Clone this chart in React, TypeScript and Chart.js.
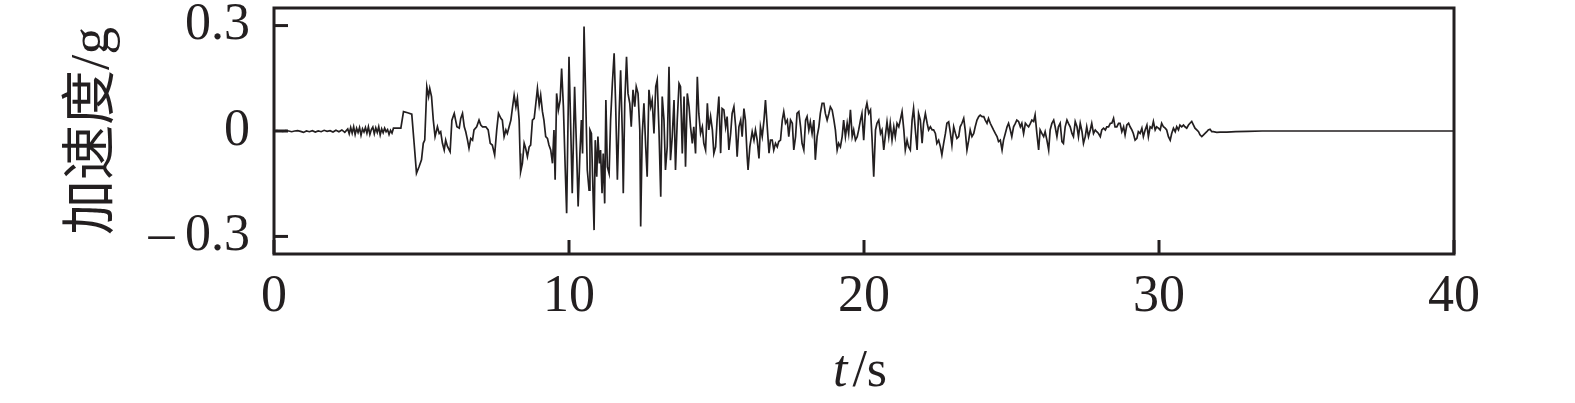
import { useEffect, useRef } from 'react';
import { Chart, registerables } from 'chart.js';

Chart.register(...registerables);

const INK = '#231f20';
const FONT = "'Liberation Serif', 'Times New Roman', 'Noto Sans CJK SC', serif";
const FONT_SIZE = 52;

const X_MIN = 0;
const X_MAX = 40;
const Y_MIN = -0.35;
const Y_MAX = 0.35;
const X_TICKS = [0, 10, 20, 30, 40];
const Y_TICKS = [-0.3, 0, 0.3];
const Y_TICK_LABELS = ['\u2013\u20090.3', '0', '0.3'];
const X_TITLE_ITALIC = 't';
const X_TITLE_REST = '/s';
const Y_TITLE = '加速度/g';

// [time (s), acceleration (g)] read from the record
const PRE_EVENT: [number, number][] = [
  [0, 0.0], [0.1, 0.001], [0.2, 0.0], [0.3, -0.001], [0.4, 0.001], [0.5, 0.0], [0.6, -0.002],
  [0.7, 0.0], [0.8, 0.001], [0.9, -0.001], [1.0, -0.004], [1.1, 0.0], [1.2, -0.002], [1.3, 0.001],
  [1.4, -0.003], [1.5, 0.0], [1.6, -0.002], [1.7, 0.002], [1.8, -0.001], [1.9, 0.001], [2.0, -0.003],
  [2.1, 0.002], [2.2, -0.002], [2.3, 0.003], [2.4, -0.004], [2.5, 0.006], [2.55, -0.008], [2.6, 0.01],
  [2.65, -0.006], [2.7, 0.012], [2.75, -0.01], [2.8, 0.008], [2.85, -0.004], [2.9, 0.01], [2.95, -0.012],
  [3.0, 0.006], [3.05, -0.003], [3.1, 0.01], [3.15, -0.006], [3.2, 0.012], [3.25, -0.01], [3.3, 0.004],
  [3.35, 0.011], [3.4, -0.008], [3.45, 0.009], [3.5, -0.004], [3.55, 0.012], [3.6, -0.011], [3.65, 0.006],
  [3.7, -0.005], [3.75, 0.008], [3.8, -0.002], [3.85, 0.004], [3.9, -0.01], [3.95, 0.002], [4.0, -0.006],
  [4.05, 0.008],
];

const ONSET: [number, number][] = [
  [4.3, 0.008], [4.39, 0.055], [4.53, 0.052], [4.67, 0.048], [4.75, -0.035], [4.83, -0.12], [4.92, -0.101],
  [5.0, -0.082], [5.06, -0.035], [5.11, -0.026], [5.18, 0.126], [5.24, 0.098], [5.28, 0.121], [5.34, 0.098],
  [5.4, 0.031], [5.46, -0.016], [5.54, 0.012], [5.6, -0.007], [5.65, -0.002], [5.71, -0.035], [5.77, -0.054],
  [5.82, -0.026], [5.88, -0.044], [5.97, -0.059], [6.03, 0.031], [6.11, 0.05], [6.2, 0.012], [6.28, 0.008],
  [6.33, 0.036], [6.39, 0.05], [6.45, 0.012], [6.5, -0.002], [6.56, -0.026], [6.61, -0.049], [6.67, -0.021],
  [6.73, -0.026], [6.78, 0.003], [6.87, 0.012], [6.95, 0.031], [7.01, 0.017], [7.07, 0.012], [7.18, 0.012],
  [7.26, 0.003], [7.33, -0.035], [7.4, -0.04], [7.48, -0.068], [7.55, 0.003], [7.61, 0.05], [7.69, 0.036],
  [7.74, 0.031], [7.8, -0.016],
];

const STRONG: [number, number][] = [
  [7.86, 0.003], [7.91, -0.007], [7.97, 0.012], [8.03, 0.031], [8.08, 0.064], [8.14, 0.102], [8.2, 0.069],
  [8.25, 0.093], [8.31, 0.031], [8.34, -0.064], [8.36, -0.116], [8.42, -0.092], [8.48, -0.035], [8.53, -0.049],
  [8.59, -0.073], [8.65, -0.045], [8.7, -0.04], [8.76, 0.031], [8.82, 0.036], [8.87, 0.074], [8.93, 0.121],
  [8.99, 0.074], [9.04, 0.102], [9.1, 0.055], [9.15, 0.031], [9.21, -0.016], [9.27, -0.021], [9.32, -0.04],
  [9.38, -0.054], [9.44, -0.092], [9.49, 0.003], [9.53, -0.139], [9.58, 0.107], [9.64, 0.06], [9.7, 0.088],
  [9.75, 0.178], [9.81, 0.069], [9.87, -0.102], [9.92, -0.234], [10.0, 0.211], [10.06, 0.003], [10.11, -0.177],
  [10.19, 0.126], [10.26, -0.064], [10.31, -0.215], [10.37, -0.064], [10.42, 0.031], [10.46, -0.064],
  [10.51, 0.297], [10.57, 0.079], [10.62, -0.111], [10.68, -0.168], [10.71, 0.003], [10.76, -0.007],
  [10.8, -0.13], [10.85, -0.282], [10.89, -0.026], [10.94, -0.13], [10.98, -0.016], [11.03, -0.092],
  [11.07, -0.054], [11.12, -0.177], [11.16, -0.064], [11.21, -0.206], [11.25, 0.088], [11.3, -0.102],
  [11.36, -0.121], [11.41, 0.031], [11.47, 0.135], [11.53, 0.221], [11.58, 0.079], [11.64, -0.139],
  [11.7, 0.05], [11.75, 0.173], [11.81, -0.016], [11.84, -0.177], [11.89, 0.079], [11.95, 0.211],
  [12.0, 0.107], [12.06, 0.079], [12.11, 0.012], [12.17, 0.117], [12.23, 0.069], [12.28, 0.126],
  [12.34, 0.107], [12.4, 0.003], [12.43, -0.272], [12.48, -0.016], [12.54, 0.079], [12.6, -0.045],
  [12.65, -0.13], [12.71, 0.117], [12.77, 0.069], [12.82, 0.088], [12.88, -0.007], [12.94, 0.126],
  [12.99, 0.145], [13.05, 0.003], [13.11, -0.187], [13.16, 0.098], [13.22, 0.031], [13.27, -0.111],
  [13.33, -0.045], [13.39, 0.183], [13.44, -0.083], [13.5, -0.016], [13.56, 0.088], [13.61, -0.111],
  [13.67, 0.031], [13.73, 0.135], [13.78, 0.126], [13.84, -0.064], [13.9, 0.098], [13.95, -0.102],
  [14.01, 0.107], [14.07, 0.069], [14.12, 0.012], [14.18, -0.035], [14.23, 0.012], [14.29, -0.064],
  [14.35, 0.154], [14.4, 0.05], [14.46, -0.007], [14.52, 0.012], [14.57, -0.035], [14.63, -0.054],
  [14.69, 0.079], [14.74, 0.003], [14.8, 0.041], [14.86, 0.003], [14.91, -0.064], [14.97, -0.045],
  [15.02, 0.031], [15.08, 0.098],
];

const CODA: [number, number][] = [
  [15.14, -0.063], [15.19, 0.064], [15.25, 0.06], [15.31, 0.012], [15.36, 0.041], [15.42, -0.054],
  [15.48, -0.007], [15.53, 0.05], [15.59, 0.069], [15.65, 0.012], [15.7, -0.073], [15.76, 0.012],
  [15.82, 0.031], [15.87, -0.016], [15.93, 0.064], [15.98, 0.031], [16.04, -0.073], [16.07, -0.111],
  [16.13, -0.045], [16.21, -0.002], [16.27, -0.026], [16.32, 0.003], [16.38, -0.026], [16.44, -0.078],
  [16.49, 0.012], [16.55, -0.016], [16.61, 0.031], [16.66, 0.088], [16.72, 0.012], [16.78, -0.063],
  [16.83, -0.026], [16.89, -0.026], [16.94, -0.054], [17.0, -0.035], [17.06, -0.045], [17.11, -0.03],
  [17.17, -0.026], [17.23, 0.031], [17.28, 0.055], [17.34, 0.022], [17.4, 0.031], [17.45, -0.016],
  [17.51, 0.031], [17.57, 0.022], [17.62, -0.054], [17.68, -0.016], [17.73, 0.05], [17.79, 0.055],
  [17.85, 0.012], [17.9, -0.035], [17.96, -0.054], [18.02, 0.031], [18.07, 0.041], [18.13, 0.003],
  [18.18, 0.026], [18.24, -0.007], [18.3, 0.031], [18.35, -0.082], [18.41, -0.016], [18.47, 0.012],
  [18.52, 0.05], [18.58, 0.079], [18.64, 0.079], [18.69, 0.05], [18.75, 0.031], [18.81, 0.05],
  [18.86, 0.069], [18.92, 0.06], [18.98, 0.031], [19.03, 0.003], [19.09, -0.054], [19.14, -0.035],
  [19.2, -0.045], [19.26, -0.016], [19.31, 0.031], [19.37, -0.016], [19.43, 0.022], [19.48, -0.007],
  [19.54, 0.06], [19.6, -0.016], [19.65, 0.003], [19.71, -0.026], [19.77, -0.016], [19.82, 0.003],
  [19.88, 0.031], [19.93, 0.05], [19.99, -0.026], [20.05, 0.06], [20.1, 0.079], [20.16, 0.05],
  [20.22, 0.06], [20.27, -0.016], [20.33, -0.13], [20.39, 0.003], [20.44, 0.022], [20.5, 0.031],
  [20.56, -0.007], [20.61, 0.003], [20.67, -0.054], [20.72, -0.016], [20.78, 0.026], [20.84, -0.016],
  [20.89, 0.022], [20.95, -0.026], [21.01, 0.012], [21.06, -0.016], [21.12, 0.022], [21.18, 0.012],
  [21.23, 0.031], [21.29, 0.055], [21.35, 0.003], [21.4, -0.054], [21.46, -0.026], [21.51, -0.045],
  [21.57, -0.054], [21.63, 0.031], [21.68, 0.064], [21.74, 0.003], [21.8, -0.054], [21.85, 0.05],
  [21.91, 0.031], [21.97, -0.035], [22.02, 0.022], [22.08, 0.05], [22.14, 0.022], [22.19, 0.003],
  [22.25, 0.012], [22.31, 0.003], [22.36, 0.003], [22.42, -0.007], [22.47, -0.035], [22.53, -0.026],
  [22.59, -0.045], [22.64, -0.068], [22.7, -0.035], [22.76, -0.007], [22.81, 0.022], [22.87, 0.026],
  [22.93, -0.007], [22.98, -0.04], [23.04, 0.012], [23.1, -0.007], [23.15, -0.021], [23.21, -0.016],
  [23.26, 0.012], [23.32, 0.022], [23.38, 0.036], [23.43, 0.003], [23.49, -0.054], [23.55, -0.026],
  [23.6, 0.003], [23.66, -0.016], [23.72, -0.007], [23.77, 0.012], [23.83, 0.031], [23.89, 0.041],
  [23.94, 0.045], [24.0, 0.041], [24.06, 0.041], [24.11, 0.031], [24.17, 0.022], [24.22, 0.036],
  [24.28, 0.022], [24.34, 0.012], [24.39, 0.003], [24.45, -0.007], [24.51, -0.016], [24.56, -0.03],
  [24.62, -0.026], [24.68, -0.054], [24.73, -0.026], [24.79, -0.007], [24.85, 0.012],
];

const DECAY: [number, number][] = [
  [24.9, 0.022], [24.96, 0.003], [25.01, -0.016], [25.07, 0.012], [25.13, 0.022], [25.18, 0.031],
  [25.24, 0.027], [25.3, 0.012], [25.35, 0.022], [25.41, -0.007], [25.47, 0.022], [25.52, 0.017],
  [25.58, 0.012], [25.64, 0.022], [25.69, 0.031], [25.75, 0.027], [25.8, 0.046], [25.86, -0.007],
  [25.92, -0.054], [25.97, 0.003], [26.03, -0.007], [26.09, -0.016], [26.14, -0.002], [26.2, -0.026],
  [26.26, -0.054], [26.31, 0.003], [26.37, 0.022], [26.43, 0.031], [26.48, 0.012], [26.54, -0.016],
  [26.59, 0.012], [26.65, 0.022], [26.71, -0.03], [26.76, -0.035], [26.82, 0.012], [26.88, 0.031],
  [26.93, 0.022], [26.99, 0.012], [27.05, -0.007], [27.1, -0.016], [27.16, 0.027], [27.22, 0.012],
  [27.27, -0.016], [27.33, 0.022], [27.39, -0.002], [27.44, -0.035], [27.5, -0.016], [27.55, 0.012],
  [27.61, -0.016], [27.67, 0.003], [27.72, 0.022], [27.78, -0.007], [27.84, 0.003], [27.89, -0.002],
  [27.95, -0.007], [28.01, -0.016], [28.06, 0.003], [28.12, 0.008], [28.18, 0.003], [28.23, 0.012],
  [28.29, 0.012], [28.35, 0.022], [28.4, 0.022], [28.46, 0.036], [28.51, 0.012], [28.57, 0.012],
  [28.63, 0.022], [28.68, 0.022], [28.74, -0.002], [28.8, 0.012], [28.85, -0.011], [28.91, 0.017],
  [28.97, 0.022], [29.02, 0.012], [29.08, 0.003], [29.13, -0.007], [29.19, -0.026], [29.25, -0.021],
  [29.3, -0.002], [29.36, -0.007], [29.42, 0.008], [29.47, -0.016], [29.53, 0.003], [29.59, 0.017],
  [29.64, -0.016], [29.7, 0.012], [29.76, 0.008], [29.81, 0.027], [29.87, 0.003], [29.92, 0.012],
  [29.98, 0.008], [30.04, 0.003], [30.09, 0.022], [30.15, 0.012], [30.21, 0.008], [30.26, 0.003],
  [30.32, -0.016], [30.38, -0.026], [30.43, -0.007], [30.49, 0.008], [30.55, -0.002], [30.6, 0.012],
  [30.66, 0.003], [30.71, 0.017], [30.77, 0.012], [30.83, 0.017], [30.88, 0.012], [30.94, 0.008],
  [31.0, 0.017], [31.05, 0.022], [31.11, 0.027], [31.17, 0.017], [31.22, 0.008], [31.28, 0.003],
  [31.34, -0.002], [31.39, -0.011], [31.45, -0.016], [31.51, -0.011], [31.56, -0.007], [31.62, -0.002],
  [31.67, 0.003], [31.73, 0.005], [31.79, -0.002], [31.84, -0.002], [31.96, -0.004], [32.07, -0.003],
  [32.3, -0.003], [32.6, -0.002], [33.0, -0.001], [33.5, 0.0], [40.0, 0.0],
];

const SEGMENTS = [PRE_EVENT, ONSET, STRONG, CODA, DECAY];

const framePlugin = {
  id: 'frameAndTitles',
  afterDraw(chart: any) {
    const { ctx, chartArea, scales } = chart;
    const { left, top, right, bottom } = chartArea;
    ctx.save();
    ctx.strokeStyle = INK;
    ctx.lineWidth = 3;
    ctx.strokeRect(left, top, right - left, bottom - top);
    for (const v of Y_TICKS) {
      const y = scales.y.getPixelForValue(v);
      ctx.beginPath();
      ctx.moveTo(left, y);
      ctx.lineTo(left + 14, y);
      ctx.stroke();
    }
    for (const v of X_TICKS) {
      const x = scales.x.getPixelForValue(v);
      ctx.beginPath();
      ctx.moveTo(x, bottom);
      ctx.lineTo(x, bottom - 14);
      ctx.stroke();
    }
    ctx.fillStyle = INK;
    ctx.textBaseline = 'alphabetic';
    ctx.textAlign = 'left';
    ctx.font = `italic ${FONT_SIZE}px ${FONT}`;
    const w1 = ctx.measureText(X_TITLE_ITALIC).width;
    ctx.font = `${FONT_SIZE}px ${FONT}`;
    const w2 = ctx.measureText(X_TITLE_REST).width;
    const gap = 5;
    const cx = (left + right) / 2 - 4;
    const x0 = cx - (w1 + gap + w2) / 2;
    const baseY = 386;
    ctx.font = `italic ${FONT_SIZE}px ${FONT}`;
    ctx.fillText(X_TITLE_ITALIC, x0, baseY);
    ctx.font = `${FONT_SIZE}px ${FONT}`;
    ctx.fillText(X_TITLE_REST, x0 + w1 + gap, baseY);
    ctx.restore();
  },
};

export default function App() {
  const canvasRef = useRef<HTMLCanvasElement | null>(null);

  useEffect(() => {
    document.body.style.margin = '0';
    const canvas = canvasRef.current;
    if (!canvas) return;
    const points = SEGMENTS.flat().map(([x, y]) => ({ x, y }));
    const chart = new Chart(canvas, {
      type: 'line',
      data: {
        datasets: [
          {
            data: points,
            borderColor: INK,
            borderWidth: 1.7,
            pointRadius: 0,
            tension: 0,
            fill: false,
          },
        ],
      },
      options: {
        animation: false,
        responsive: false,
        devicePixelRatio: 1,
        layout: {
          autoPadding: false,
          padding: { top: 8, right: 121, bottom: 0, left: 0 },
        },
        plugins: {
          legend: { display: false },
          tooltip: { enabled: false },
        },
        scales: {
          x: {
            type: 'linear',
            min: X_MIN,
            max: X_MAX,
            afterBuildTicks: (scale: any) => {
              scale.ticks = X_TICKS.map((value) => ({ value }));
            },
            afterFit: (scale: any) => {
              scale.height = 149;
              scale.paddingLeft = 0;
              scale.paddingRight = 0;
            },
            grid: { display: false, drawTicks: false },
            border: { display: false },
            ticks: {
              color: INK,
              padding: 12,
              maxRotation: 0,
              font: { family: FONT, size: FONT_SIZE },
              callback: (v: any) => String(v),
            },
          },
          y: {
            type: 'linear',
            min: Y_MIN,
            max: Y_MAX,
            afterBuildTicks: (scale: any) => {
              scale.ticks = Y_TICKS.map((value) => ({ value }));
            },
            afterFit: (scale: any) => {
              scale.width = 274;
              scale.paddingTop = 0;
              scale.paddingBottom = 0;
            },
            grid: { display: false, drawTicks: false },
            border: { display: false },
            ticks: {
              color: INK,
              padding: 24,
              font: { family: FONT, size: FONT_SIZE },
              callback: (v: any) => {
                const i = Y_TICKS.findIndex((t) => Math.abs(t - v) < 1e-9);
                return i >= 0 ? Y_TICK_LABELS[i] : '';
              },
            },
            title: {
              display: true,
              text: Y_TITLE,
              color: INK,
              font: { family: FONT, size: 55 },
              padding: { top: 61, bottom: 0 },
            },
          },
        },
      },
      plugins: [framePlugin],
    });
    return () => chart.destroy();
  }, []);

  return (
    <div style={{ width: 1575, height: 403, background: '#fff' }}>
      <canvas ref={canvasRef} width={1575} height={403} style={{ display: 'block' }} />
    </div>
  );
}
